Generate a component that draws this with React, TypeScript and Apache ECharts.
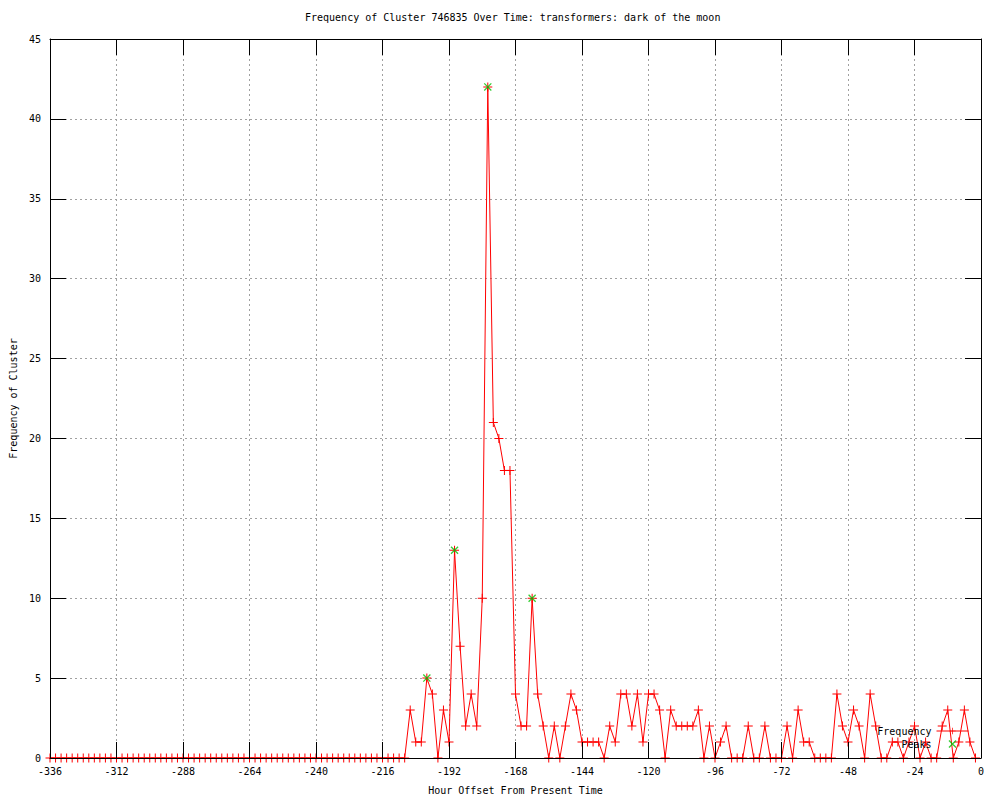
import React, { useEffect, useRef } from "react";
import * as echarts from "echarts";

const TITLE = "Frequency of Cluster 746835 Over Time: transformers: dark of the moon";
const X_NAME = "Hour Offset From Present Time";
const Y_NAME = "Frequency of Cluster";
const SERIES_NAMES = ["Frequency", "Peaks"];

const HOUR_START = -336;
const HOUR_STEP = 2;

// Frequency per 2-hour bin, from -336 to -2
const frequencyValues = [
  0, 0, 0, 0, 0, 0, 0, 0, 0, 0, 0, 0, 0, 0, 0, 0, 0, 0, 0, 0,
  0, 0, 0, 0, 0, 0, 0, 0, 0, 0, 0, 0, 0, 0, 0, 0, 0, 0, 0, 0,
  0, 0, 0, 0, 0, 0, 0, 0, 0, 0, 0, 0, 0, 0, 0, 0, 0, 0, 0, 0,
  0, 0, 0, 0, 0,
  3, 1, 1, 5, 4, 0, 3, 1, 13, 7,
  2, 4, 2, 10, 42, 21, 20, 18, 18, 4,
  2, 2, 10, 4, 2, 0, 2, 0, 2, 4,
  3, 1, 1, 1, 1, 0, 2, 1, 4, 4,
  2, 4, 1, 4, 4, 3, 0, 3, 2, 2,
  2, 2, 3, 0, 2, 0, 1, 2, 0, 0,
  0, 2, 0, 0, 2, 0, 0, 0, 2, 0,
  3, 1, 1, 0, 0, 0, 0, 4, 2, 1,
  3, 2, 0, 4, 2, 0, 0, 1, 1, 0,
  1, 2, 0, 1, 0, 0, 2, 3, 0, 1,
  3, 1, 0,
];

const peakHours = [-200, -190, -178, -162];
const peakValues = [5, 13, 42, 10];

const X_MIN = -336;
const X_MAX = 0;
const X_INTERVAL = 24;
const Y_MIN = 0;
const Y_MAX = 45;
const Y_INTERVAL = 5;

const FONT = "DejaVu Sans Mono";
const RED = "#ff0000";
const GREEN = "#00c000";
const PLUS = "path://M4,0h1v9h-1z M0,4h9v1h-9z";
const CROSS = "path://M0,0.8L0.8,0L7,6.2L6.2,7Z M6.2,0L7,0.8L0.8,7L0,6.2Z";

export default function App() {
  const ref = useRef<HTMLDivElement>(null);

  useEffect(() => {
    if (!ref.current) return;
    const chart = echarts.init(ref.current, null, { renderer: "svg" });

    const freqData = frequencyValues.map((v, i) => [HOUR_START + i * HOUR_STEP, v]);
    const peakData = peakHours.map((h, i) => [h, peakValues[i]]);

    const textStyle = { fontFamily: FONT, fontSize: 10, color: "#000" };
    const frameLine = { show: true, onZero: false, lineStyle: { color: "#000", width: 1 } };
    const frameTick = { show: true, inside: true, length: 16, lineStyle: { color: "#000", width: 1 } };

    const xBase = { type: "value", min: X_MIN, max: X_MAX, interval: X_INTERVAL };
    const yBase = { type: "value", min: Y_MIN, max: Y_MAX, interval: Y_INTERVAL };

    chart.setOption({
      animation: false,
      backgroundColor: "#fff",
      title: {
        text: TITLE,
        left: 305,
        top: 12,
        padding: 0,
        textStyle: { ...textStyle, fontWeight: "normal" },
      },
      legend: {
        data: [
          { name: SERIES_NAMES[0], lineStyle: { width: 1, color: RED } },
          { name: SERIES_NAMES[1], icon: CROSS },
        ],
        orient: "vertical",
        align: "right",
        right: 31,
        top: 726,
        padding: 0,
        itemWidth: 32,
        itemHeight: 8,
        itemGap: 3,
        lineStyle: { width: 1 },
        textStyle,
      },
      grid: { left: 50, right: 19, top: 39, bottom: 40, containLabel: false },
      xAxis: [
        {
          ...xBase,
          position: "bottom",
          axisLine: { show: false, onZero: false },
          axisTick: { show: false },
          axisLabel: { ...textStyle, margin: 8 },
          splitLine: { show: true, lineStyle: { color: "#a0a0a0", width: 1, type: [2, 3] } },
          name: X_NAME,
          nameLocation: "middle",
          nameGap: 27,
          nameTextStyle: textStyle,
        },
        {
          ...xBase,
          position: "bottom",
          z: 5,
          axisLine: frameLine,
          axisTick: frameTick,
          axisLabel: { show: false },
          splitLine: { show: false },
        },
        {
          ...xBase,
          position: "top",
          z: 5,
          axisLine: frameLine,
          axisTick: frameTick,
          axisLabel: { show: false },
          splitLine: { show: false },
        },
      ],
      yAxis: [
        {
          ...yBase,
          position: "left",
          axisLine: { show: false, onZero: false },
          axisTick: { show: false },
          axisLabel: { ...textStyle, margin: 9 },
          splitLine: { show: true, lineStyle: { color: "#a0a0a0", width: 1, type: [2, 3] } },
          name: Y_NAME,
          nameLocation: "middle",
          nameGap: 31,
          nameTextStyle: textStyle,
        },
        {
          ...yBase,
          position: "left",
          z: 5,
          axisLine: frameLine,
          axisTick: frameTick,
          axisLabel: { show: false },
          splitLine: { show: false },
        },
        {
          ...yBase,
          position: "right",
          z: 5,
          axisLine: frameLine,
          axisTick: frameTick,
          axisLabel: { show: false },
          splitLine: { show: false },
        },
      ],
      series: [
        {
          name: SERIES_NAMES[0],
          type: "line",
          xAxisIndex: 0,
          yAxisIndex: 0,
          data: freqData,
          showSymbol: true,
          symbol: PLUS,
          symbolSize: 9,
          lineStyle: { color: RED, width: 1 },
          itemStyle: { color: RED },
          z: 2,
        },
        {
          name: SERIES_NAMES[1],
          type: "scatter",
          xAxisIndex: 0,
          yAxisIndex: 0,
          data: peakData,
          symbol: CROSS,
          symbolSize: 8,
          itemStyle: { color: GREEN },
          z: 3,
        },
      ],
    });

    return () => chart.dispose();
  }, []);

  return (
    <div
      ref={ref}
      style={{ position: "absolute", left: 0, top: 0, width: 1000, height: 800, background: "#fff" }}
    />
  );
}
